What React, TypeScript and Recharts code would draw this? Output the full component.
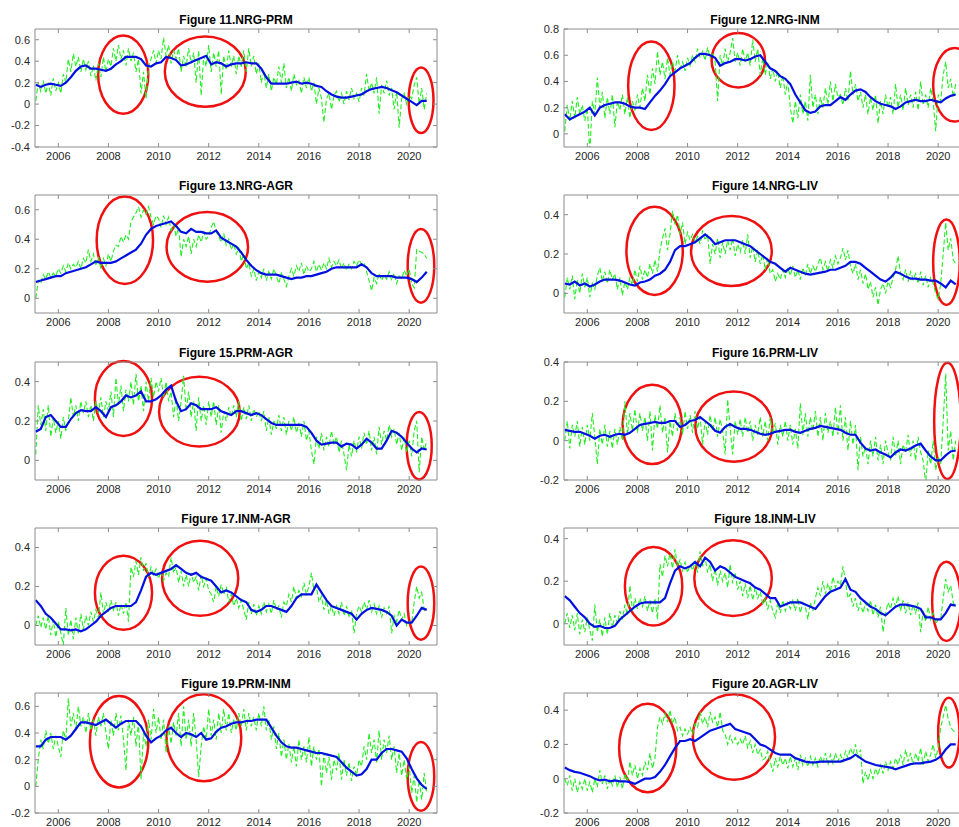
import { LineChart, Line, XAxis, YAxis, ReferenceArea } from 'recharts';

// green: raw correlation, sampled every 0.1 yr from 2005.1
// blue: smoothed correlation, sampled every 0.2 yr from 2005.1
const GREEN_START = 2005.1;
const GREEN_STEP = 0.1;
const BLUE_START = 2005.1;
const BLUE_STEP = 0.2;

const yearTicks = [2006, 2008, 2010, 2012, 2014, 2016, 2018, 2020];
const yearDomain: [number, number] = [2005.07, 2021.11];

// ---- Figure 11 NRG-PRM
const g11 = [
  0.03, 0.2, 0.12, 0.22, 0.1, 0.2, 0.08, 0.24, 0.12, 0.2,
  0.1, 0.28, 0.2, 0.42, 0.3, 0.47, 0.35, 0.44, 0.3, 0.42,
  0.32, 0.4, 0.26, 0.36, 0.22, 0.38, 0.25, 0.44, 0.3, 0.42,
  0.35, 0.52, 0.4, 0.55, 0.42, 0.5, 0.36, 0.52, 0.4, 0.48,
  0.3, 0.42, 0.1, 0.3, 0.05, 0.35, 0.42, 0.5, 0.38, 0.5,
  0.42, 0.62, 0.45, 0.55, 0.38, 0.5, 0.42, 0.52, 0.3, 0.45,
  0.35, 0.52, 0.38, 0.48, 0.2, 0.5, 0.08, 0.45, 0.35, 0.55,
  0.3, 0.48, 0.35, 0.5, 0.09, 0.45, 0.32, 0.5, 0.35, 0.45,
  0.28, 0.45, 0.35, 0.5, 0.3, 0.52, 0.35, 0.45, 0.28, 0.38,
  0.2, 0.3, 0.15, 0.28, 0.12, 0.25, 0.18, 0.35, 0.2, 0.38,
  0.15, 0.25, 0.12, 0.28, 0.18, 0.22, 0.1, 0.25, 0.15, 0.25,
  0.12, 0.2, 0.0, 0.15, 0.05, -0.17, 0.05, 0.1, -0.05, 0.08,
  0.12, 0.02, 0.1, 0.0, 0.12, 0.04, 0.15, 0.05, 0.1, 0.02,
  0.15, 0.08, 0.28, 0.12, 0.2, 0.1, 0.25, -0.09, 0.18, 0.1,
  0.22, 0.08, 0.15, -0.05, 0.12, -0.22, 0.05, 0.1, 0.0, 0.08,
  0.05, 0.18, 0.25, 0.0, 0.15, -0.05, 0.1,
];
const b11 = [
  0.18, 0.16, 0.18, 0.19, 0.18,
  0.17, 0.2, 0.25, 0.31, 0.35,
  0.36, 0.33, 0.33, 0.32, 0.31,
  0.33, 0.37, 0.4, 0.44, 0.44,
  0.44, 0.42, 0.36, 0.35, 0.38,
  0.39, 0.44, 0.43, 0.41, 0.36,
  0.37, 0.39, 0.41, 0.43, 0.45,
  0.37, 0.39, 0.38, 0.35, 0.37,
  0.38, 0.38, 0.39, 0.38, 0.38,
  0.33, 0.25, 0.19, 0.19, 0.19,
  0.19, 0.2, 0.21, 0.19, 0.2,
  0.19, 0.17, 0.16, 0.12, 0.09,
  0.07, 0.06, 0.06, 0.07, 0.08,
  0.09, 0.12, 0.14, 0.15, 0.16,
  0.15, 0.13, 0.11, 0.08, 0.05,
  0.02, -0.01, 0.03, 0.03,
];
const rings11 = [
  [2007.59, 2009.59, -0.09, 0.64],
  [2010.25, 2013.48, -0.025, 0.63],
  [2019.98, 2020.97, -0.27, 0.34],
];

// ---- Figure 12 NRG-INM
const g12 = [
  0.02, 0.22, 0.1, 0.25, 0.12, 0.28, 0.15, 0.22, 0.1, 0.2,
  -0.14, 0.25, 0.15, 0.43, 0.2, 0.32, 0.12, 0.28, 0.15, 0.3,
  0.05, 0.25, 0.18, 0.3, 0.15, 0.28, 0.12, 0.25, 0.18, 0.3,
  0.2, 0.35, 0.25, 0.45, 0.3, 0.5, 0.38, 0.63, 0.45, 0.55,
  0.42, 0.58, 0.45, 0.55, 0.48, 0.6, 0.5, 0.55, 0.48, 0.58,
  0.52, 0.6, 0.55, 0.65, 0.58, 0.63, 0.56, 0.66, 0.58, 0.62,
  0.55, 0.25, 0.6, 0.52, 0.65, 0.55, 0.62, 0.73, 0.55, 0.62,
  0.52, 0.65, 0.55, 0.62, 0.52, 0.72, 0.55, 0.65, 0.45, 0.58,
  0.45, 0.55, 0.42, 0.5, 0.4, 0.48, 0.35, 0.45, 0.3, 0.4,
  0.2, 0.08, 0.25, 0.12, 0.3, 0.15, 0.25, 0.1, 0.45, 0.2,
  0.3, 0.15, 0.28, 0.2, 0.35, 0.22, 0.4, 0.25, 0.38, 0.28,
  0.3, 0.22, 0.35, 0.25, 0.48, 0.3, 0.38, 0.25, 0.32, 0.2,
  0.3, 0.15, 0.28, 0.18, 0.3, 0.08, 0.25, 0.15, 0.3, 0.2,
  0.28, 0.15, 0.38, 0.2, 0.3, 0.18, 0.35, 0.22, 0.3, 0.2,
  0.32, 0.18, 0.4, 0.22, 0.3, 0.2, 0.35, 0.25, 0.02, 0.3,
  0.25, 0.45, 0.55, 0.35, 0.42, 0.28, 0.38,
];
const b12 = [
  0.15, 0.11, 0.13, 0.15, 0.17,
  0.2, 0.14, 0.2, 0.22, 0.23,
  0.24, 0.24, 0.23, 0.21, 0.2,
  0.2, 0.19, 0.24, 0.29, 0.33,
  0.38, 0.44, 0.47, 0.5, 0.52,
  0.54, 0.58, 0.61, 0.61, 0.6,
  0.58, 0.52, 0.54, 0.55, 0.57,
  0.57, 0.56, 0.57, 0.59, 0.6,
  0.55, 0.5, 0.48, 0.44, 0.42,
  0.38, 0.3, 0.24, 0.18, 0.16,
  0.17, 0.21, 0.22, 0.22, 0.25,
  0.28, 0.26, 0.3, 0.33, 0.34,
  0.32, 0.28, 0.25, 0.23, 0.22,
  0.21, 0.19, 0.21, 0.24, 0.25,
  0.26, 0.25, 0.25, 0.26, 0.25,
  0.24, 0.27, 0.29, 0.3,
];
const rings12 = [
  [2007.63, 2009.48, 0.03, 0.705],
  [2010.96, 2013.09, 0.354, 0.77],
  [2019.8, 2021.5, 0.094, 0.655],
];

// ---- Figure 13 NRG-AGR
const g13 = [
  0.0, 0.12, 0.1, 0.16, 0.13, 0.18, 0.14, 0.17, 0.15, 0.2,
  0.17, 0.22, 0.18, 0.24, 0.2, 0.23, 0.21, 0.25, 0.2, 0.27,
  0.24, 0.33, 0.25, 0.3, 0.22, 0.28, 0.2, 0.27, 0.22, 0.3,
  0.25, 0.32, 0.36, 0.35, 0.42, 0.38, 0.43, 0.4, 0.52, 0.55,
  0.58, 0.62, 0.55, 0.6, 0.57, 0.62, 0.55, 0.5, 0.56, 0.54,
  0.48, 0.56, 0.5, 0.55, 0.46, 0.5, 0.42, 0.48, 0.28, 0.4,
  0.35, 0.42, 0.3, 0.4, 0.35, 0.43, 0.38, 0.45, 0.4, 0.42,
  0.48, 0.52, 0.45, 0.42, 0.38, 0.44, 0.36, 0.4, 0.33, 0.37,
  0.3, 0.34, 0.25, 0.3, 0.2, 0.24, 0.15, 0.2, 0.12, 0.18,
  0.14, 0.2, 0.12, 0.18, 0.13, 0.2, 0.15, 0.1, 0.17, 0.13,
  0.08, 0.15, 0.2, 0.15, 0.22, 0.18, 0.24, 0.16, 0.22, 0.18,
  0.2, 0.25, 0.18, 0.23, 0.19, 0.24, 0.2, 0.27, 0.21, 0.25,
  0.22, 0.26, 0.2, 0.24, 0.19, 0.23, 0.2, 0.25, 0.22, 0.26,
  0.23, 0.24, 0.18, 0.12, 0.05, 0.14, 0.1, 0.17, 0.12, 0.16,
  0.13, 0.18, 0.12, 0.17, 0.1, 0.15, 0.13, 0.19, 0.15, 0.2,
  0.1, 0.07, 0.33, 0.32, 0.31, 0.3, 0.27,
];
const b13 = [
  0.11, 0.12, 0.13, 0.14, 0.15,
  0.15, 0.17, 0.18, 0.19, 0.2,
  0.21, 0.23, 0.25, 0.24, 0.24,
  0.24, 0.25, 0.27, 0.29, 0.31,
  0.33, 0.37, 0.43, 0.47, 0.49,
  0.5, 0.51, 0.52, 0.49, 0.45,
  0.44, 0.47, 0.45, 0.45, 0.44,
  0.44, 0.46, 0.41, 0.39, 0.37,
  0.35, 0.31, 0.26, 0.22, 0.19,
  0.17, 0.16, 0.16, 0.16, 0.15,
  0.14, 0.13, 0.14, 0.14, 0.15,
  0.15, 0.16, 0.17, 0.18, 0.2,
  0.21, 0.21, 0.21, 0.21, 0.21,
  0.23, 0.21, 0.17, 0.15, 0.15,
  0.15, 0.15, 0.14, 0.14, 0.14,
  0.13, 0.11, 0.14, 0.18,
];
const rings13 = [
  [2007.53, 2009.78, 0.097, 0.69],
  [2010.32, 2013.57, 0.112, 0.584],
  [2019.94, 2021.0, -0.03, 0.47],
];

// ---- Figure 14 NRG-LIV
const g14 = [
  -0.02, 0.08, 0.02, 0.09, -0.03, 0.07, 0.0, 0.1, 0.03, 0.08,
  -0.02, 0.05, 0.02, 0.09, 0.13, 0.06, 0.11, 0.05, 0.12, 0.07,
  0.1, 0.02, 0.08, -0.01, 0.06, 0.02, 0.08, 0.04, 0.12, 0.06,
  0.14, 0.07, 0.12, 0.08, 0.15, 0.1, 0.17, 0.11, 0.22, 0.28,
  0.33, 0.22, 0.3, 0.42, 0.35, 0.4, 0.3, 0.36, 0.25, 0.31,
  0.27, 0.3, 0.26, 0.29, 0.25, 0.32, 0.27, 0.3, 0.15, 0.25,
  0.2, 0.28, 0.18, 0.26, 0.2, 0.27, 0.22, 0.28, 0.19, 0.25,
  0.21, 0.27, 0.2, 0.3, 0.18, 0.24, 0.16, 0.22, 0.15, 0.2,
  0.12, 0.18, 0.1, 0.12, 0.06, 0.1, 0.07, 0.12, 0.08, 0.13,
  0.09, 0.14, 0.08, 0.12, 0.07, 0.13, 0.09, 0.15, 0.1, 0.14,
  0.11, 0.15, 0.18, 0.12, 0.16, 0.11, 0.17, 0.13, 0.19, 0.15,
  0.18, 0.23, 0.17, 0.22, 0.14, 0.1, 0.15, 0.07, 0.12, 0.05,
  0.1, 0.02, 0.06, -0.02, 0.03, -0.06, 0.02, 0.05, 0.0, 0.06,
  0.03, 0.08, 0.12, 0.19, 0.1, 0.07, 0.12, 0.06, 0.11, 0.07,
  0.1, 0.05, 0.11, 0.04, 0.09, 0.03, 0.08, 0.05, 0.0, -0.03,
  0.05, 0.2, 0.36, 0.22, 0.28, 0.17, 0.15,
];
const b14 = [
  0.05, 0.045, 0.06, 0.04, 0.05,
  0.035, 0.045, 0.06, 0.07, 0.07,
  0.07, 0.065, 0.055, 0.045, 0.04,
  0.055, 0.06, 0.07, 0.09, 0.1,
  0.12, 0.16, 0.22, 0.24, 0.24,
  0.25, 0.26, 0.28, 0.3, 0.28,
  0.25, 0.26, 0.27, 0.27, 0.27,
  0.26, 0.25, 0.24, 0.22, 0.2,
  0.18, 0.16, 0.15, 0.13, 0.11,
  0.13, 0.12, 0.11, 0.1, 0.095,
  0.1, 0.105, 0.11, 0.12, 0.12,
  0.13, 0.14, 0.16, 0.16, 0.15,
  0.13, 0.11, 0.09, 0.07, 0.06,
  0.08, 0.11, 0.1, 0.085, 0.075,
  0.075, 0.07, 0.07, 0.065, 0.065,
  0.05, 0.03, 0.065, 0.045,
];
const rings14 = [
  [2007.56, 2009.81, -0.008, 0.44],
  [2010.14, 2013.36, 0.037, 0.393],
  [2019.8, 2020.86, -0.059, 0.375],
];

// ---- Figure 15 PRM-AGR
const g15 = [
  0.03, 0.28, 0.18, 0.26, 0.15, 0.28, 0.12, 0.22, 0.14, 0.2,
  0.11, 0.22, 0.15, 0.2, 0.32, 0.22, 0.28, 0.2, 0.3, 0.24,
  0.3, 0.22, 0.28, 0.2, 0.3, 0.24, 0.32, 0.22, 0.3, 0.25,
  0.35, 0.22, 0.42, 0.28, 0.38, 0.25, 0.36, 0.3, 0.4, 0.28,
  0.44, 0.3, 0.38, 0.25, 0.4, 0.3, 0.42, 0.32, 0.4, 0.35,
  0.42, 0.32, 0.4, 0.3, 0.35, 0.22, 0.32, 0.2, 0.3, 0.43,
  0.25, 0.35, 0.22, 0.3, 0.15, 0.32, 0.2, 0.28, 0.18, 0.3,
  0.22, 0.3, 0.18, 0.28, 0.14, 0.25, 0.2, 0.27, 0.22, 0.28,
  0.22, 0.3, 0.2, 0.27, 0.21, 0.28, 0.2, 0.26, 0.22, 0.25,
  0.2, 0.25, 0.15, 0.22, 0.13, 0.2, 0.16, 0.23, 0.15, 0.22,
  0.13, 0.2, 0.15, 0.22, 0.14, 0.19, 0.12, 0.2, 0.1, 0.15,
  0.05, -0.02, 0.12, 0.06, 0.14, 0.05, 0.12, 0.07, 0.15, 0.08,
  0.12, 0.04, 0.1, 0.03, -0.05, 0.08, 0.02, 0.1, 0.04, 0.12,
  0.06, 0.14, 0.08, 0.15, 0.05, 0.12, 0.03, 0.17, 0.08, 0.15,
  0.1, 0.18, 0.12, 0.16, 0.08, 0.14, 0.05, 0.12, 0.04, 0.1,
  0.02, 0.15, 0.2, -0.06, 0.12, 0.05, 0.1,
];
const b15 = [
  0.145, 0.16, 0.22, 0.23, 0.2,
  0.17, 0.17, 0.21, 0.24, 0.255,
  0.25, 0.25, 0.27, 0.25, 0.22,
  0.27, 0.28, 0.3, 0.33, 0.32,
  0.33, 0.35, 0.3, 0.3, 0.31,
  0.33, 0.36, 0.38, 0.3, 0.25,
  0.26, 0.29, 0.28, 0.26, 0.26,
  0.26, 0.27, 0.25, 0.24, 0.23,
  0.25, 0.25, 0.24, 0.23, 0.24,
  0.23, 0.21, 0.19, 0.18, 0.18,
  0.18, 0.18, 0.18, 0.18, 0.17,
  0.14, 0.1, 0.08, 0.085, 0.09,
  0.09, 0.07, 0.085, 0.08, 0.06,
  0.08, 0.11, 0.09, 0.06, 0.06,
  0.1, 0.15, 0.14, 0.12, 0.09,
  0.06, 0.04, 0.06, 0.055,
];
const rings15 = [
  [2007.46, 2009.74, 0.124, 0.505],
  [2010.02, 2013.24, 0.07, 0.425],
  [2019.9, 2020.9, -0.097, 0.246],
];

// ---- Figure 16 PRM-LIV
const g16 = [
  0.0, 0.1, -0.04, 0.08, 0.02, 0.1, -0.03, 0.07, -0.02, 0.08,
  0.0, 0.14, 0.02, -0.12, 0.06, -0.02, 0.08, -0.03, 0.05, -0.04,
  0.06, -0.02, 0.07, 0.0, 0.2, 0.03, 0.14, 0.05, 0.16, 0.04,
  0.14, 0.05, 0.12, 0.0, 0.15, -0.05, 0.13, 0.06, 0.18, 0.04,
  0.12, -0.06, 0.1, 0.02, 0.14, 0.05, 0.12, 0.03, 0.15, 0.06,
  0.13, 0.04, 0.15, 0.06, 0.12, -0.02, 0.1, 0.03, 0.13, 0.05,
  0.12, 0.02, 0.11, 0.05, -0.07, 0.21, 0.06, -0.07, 0.1, 0.03,
  0.11, 0.02, 0.12, 0.04, 0.1, 0.0, 0.08, 0.03, 0.12, 0.02,
  0.1, 0.0, 0.12, 0.03, 0.09, -0.02, 0.08, 0.02, 0.1, 0.0,
  0.08, -0.02, 0.06, -0.04, 0.19, 0.03, 0.14, 0.02, 0.12, 0.05,
  0.15, 0.02, 0.12, 0.0, 0.14, 0.04, 0.1, 0.02, 0.17, 0.03,
  0.18, 0.0, 0.12, -0.05, 0.1, -0.02, 0.08, -0.15, 0.02, -0.08,
  -0.03, -0.12, 0.0, -0.08, 0.02, -0.1, -0.02, -0.12, 0.0, -0.06,
  -0.1, 0.02, -0.08, 0.0, -0.12, -0.02, -0.06, 0.03, -0.08, 0.0,
  -0.1, 0.02, -0.06, -0.1, -0.22, -0.05, -0.12, 0.0, -0.15, -0.08,
  -0.12, 0.1, 0.34, -0.05, 0.05, -0.1, 0.0,
];
const b16 = [
  0.055, 0.05, 0.045, 0.045, 0.035,
  0.025, 0.01, 0.025, 0.03, 0.02,
  0.03, 0.035, 0.03, 0.04, 0.06,
  0.08, 0.085, 0.09, 0.095, 0.09,
  0.09, 0.1, 0.1, 0.07, 0.08,
  0.1, 0.105, 0.12, 0.1, 0.08,
  0.05, 0.04, 0.07, 0.085, 0.07,
  0.06, 0.06, 0.055, 0.045, 0.035,
  0.03, 0.035, 0.045, 0.05, 0.055,
  0.055, 0.045, 0.04, 0.05, 0.06,
  0.065, 0.075, 0.07, 0.065, 0.06,
  0.055, 0.04, 0.03, 0.03, -0.01,
  -0.04, -0.05, -0.045, -0.06, -0.07,
  -0.085, -0.06, -0.045, -0.05, -0.04,
  -0.025, -0.015, -0.05, -0.08, -0.1,
  -0.1, -0.075, -0.055, -0.05,
];
const rings16 = [
  [2007.41, 2009.77, -0.119, 0.284],
  [2010.31, 2013.38, -0.107, 0.25],
  [2019.84, 2020.9, -0.195, 0.396],
];

// ---- Figure 17 INM-AGR
const g17 = [
  0.0, 0.05, -0.01, 0.04, -0.02, 0.05, -0.05, 0.03, -0.06, 0.02,
  -0.04, -0.1, 0.09, -0.05, 0.03, -0.07, 0.04, -0.04, 0.06, -0.02,
  0.05, 0.0, 0.07, 0.02, 0.08, 0.04, 0.17, 0.06, 0.12, 0.07,
  0.13, 0.08, 0.12, 0.05, 0.11, 0.06, 0.12, 0.02, 0.3, 0.25,
  0.33, 0.26, 0.35, 0.28, 0.32, 0.25, 0.3, 0.26, 0.29, 0.24,
  0.28, 0.23, 0.27, 0.25, 0.35, 0.27, 0.3, 0.22, 0.28, 0.2,
  0.26, 0.2, 0.27, 0.22, 0.25, 0.18, 0.26, 0.2, 0.24, 0.18,
  0.16, 0.12, 0.2, 0.15, 0.21, 0.16, 0.2, 0.12, 0.16, 0.1,
  0.14, 0.09, 0.13, 0.08, 0.03, 0.12, 0.06, 0.11, 0.05, 0.1,
  0.06, 0.12, 0.07, 0.11, 0.06, 0.13, 0.08, 0.1, 0.04, 0.12,
  0.1, 0.16, 0.12, 0.2, 0.14, 0.18, 0.15, 0.22, 0.16, 0.2,
  0.27, 0.18, 0.2, 0.12, 0.15, 0.08, 0.13, 0.06, 0.1, 0.05,
  0.1, 0.06, 0.12, 0.05, 0.1, 0.04, 0.08, -0.04, 0.06, 0.1,
  0.07, 0.12, 0.08, 0.13, 0.07, 0.11, 0.06, 0.1, 0.04, 0.09,
  0.06, 0.1, -0.04, 0.05, 0.02, 0.08, 0.03, 0.06, 0.0, 0.02,
  0.01, 0.12, 0.2, 0.14, 0.17, 0.08, 0.07,
];
const b17 = [
  0.13, 0.1, 0.06, 0.04, 0.01,
  -0.02, -0.02, -0.025, -0.02, -0.03,
  -0.02, 0.0, 0.02, 0.05, 0.07,
  0.09, 0.1, 0.1, 0.1, 0.1,
  0.12, 0.18, 0.25, 0.27, 0.26,
  0.27, 0.28, 0.29, 0.31, 0.29,
  0.27, 0.26, 0.27, 0.25, 0.24,
  0.23, 0.2, 0.17, 0.18, 0.17,
  0.15, 0.13, 0.12, 0.08, 0.07,
  0.08, 0.1, 0.1, 0.09, 0.08,
  0.07, 0.1, 0.14, 0.16, 0.16,
  0.16, 0.21, 0.17, 0.13, 0.1,
  0.09, 0.08, 0.07, 0.06, 0.03,
  0.06, 0.08, 0.09, 0.085, 0.08,
  0.07, 0.05, 0.0, 0.03, 0.015,
  0.015, 0.05, 0.09, 0.08,
];
const rings17 = [
  [2007.46, 2009.74, -0.022, 0.358],
  [2010.14, 2013.18, 0.05, 0.434],
  [2019.94, 2021.0, -0.073, 0.302],
];

// ---- Figure 18 INM-LIV
const g18 = [
  0.0, 0.05, -0.02, 0.04, -0.03, 0.05, -0.05, 0.02, -0.04, 0.03,
  -0.03, -0.08, 0.09, -0.04, 0.02, -0.06, 0.03, -0.05, 0.05, -0.02,
  0.04, 0.0, 0.06, 0.02, 0.09, 0.04, 0.18, 0.06, 0.12, 0.07,
  0.12, 0.08, 0.13, 0.06, 0.11, 0.05, 0.12, 0.02, 0.28, 0.22,
  0.32, 0.27, 0.33, 0.26, 0.35, 0.27, 0.3, 0.25, 0.29, 0.24,
  0.28, 0.25, 0.29, 0.24, 0.34, 0.27, 0.31, 0.24, 0.28, 0.2,
  0.26, 0.18, 0.25, 0.2, 0.24, 0.17, 0.28, 0.19, 0.24, 0.16,
  0.2, 0.13, 0.19, 0.12, 0.18, 0.11, 0.17, 0.12, 0.15, 0.09,
  0.12, 0.07, 0.11, 0.06, 0.03, 0.1, 0.05, 0.11, 0.06, 0.1,
  0.07, 0.11, 0.06, 0.12, 0.05, 0.1, 0.08, 0.02, 0.1, 0.06,
  0.12, 0.17, 0.13, 0.2, 0.14, 0.19, 0.15, 0.22, 0.17, 0.2,
  0.18, 0.27, 0.2, 0.12, 0.14, 0.08, 0.12, 0.06, 0.1, 0.05,
  0.1, 0.06, 0.11, 0.04, 0.09, 0.03, 0.08, -0.04, 0.05, 0.1,
  0.07, 0.12, 0.08, 0.13, 0.06, 0.11, 0.05, 0.1, 0.04, 0.09,
  0.05, 0.1, -0.04, 0.06, 0.01, 0.08, 0.02, 0.05, 0.0, 0.02,
  0.02, 0.12, 0.21, 0.15, 0.18, 0.1, 0.08,
];
const b18 = [
  0.13, 0.11, 0.08, 0.05, 0.03,
  0.0, -0.015, -0.01, -0.02, -0.02,
  -0.01, 0.02, 0.04, 0.06, 0.08,
  0.095, 0.1, 0.1, 0.1, 0.1,
  0.12, 0.19, 0.25, 0.27, 0.26,
  0.27, 0.29, 0.27, 0.31, 0.29,
  0.25, 0.27, 0.26, 0.24, 0.22,
  0.21, 0.2, 0.19, 0.17, 0.16,
  0.14, 0.12, 0.12, 0.08, 0.09,
  0.1, 0.1, 0.1, 0.09, 0.08,
  0.07, 0.1, 0.13, 0.15, 0.16,
  0.17, 0.21, 0.16, 0.15, 0.12,
  0.1, 0.08, 0.07, 0.05, 0.04,
  0.06, 0.08, 0.09, 0.09, 0.085,
  0.08, 0.07, 0.03, 0.03, 0.02,
  0.02, 0.05, 0.09, 0.085,
];
const rings18 = [
  [2007.5, 2009.79, -0.008, 0.361],
  [2010.27, 2013.36, 0.036, 0.392],
  [2019.76, 2020.9, -0.081, 0.291],
];

// ---- Figure 19 PRM-INM
const g19 = [
  0.0, 0.2, 0.35, 0.28, 0.42, 0.32, 0.4, 0.28, 0.38, 0.3,
  0.22, 0.42, 0.35, 0.66, 0.45, 0.55, 0.42, 0.6, 0.45, 0.52,
  0.4, 0.55, 0.42, 0.5, 0.38, 0.52, 0.45, 0.55, 0.4, 0.28,
  0.5, 0.38, 0.55, 0.42, 0.53, 0.35, 0.12, 0.5, 0.38, 0.52,
  0.3, 0.48, 0.05, 0.4, 0.3, 0.5, 0.35, 0.58, 0.4, 0.52,
  0.35, 0.5, 0.25, 0.45, 0.32, 0.48, 0.38, 0.55, 0.3, 0.6,
  0.35, 0.5, 0.3, 0.55, 0.35, 0.07, 0.3, 0.45, 0.35, 0.58,
  0.38, 0.5, 0.35, 0.55, 0.4, 0.58, 0.42, 0.55, 0.4, 0.5,
  0.42, 0.55, 0.45, 0.58, 0.42, 0.55, 0.45, 0.52, 0.42, 0.55,
  0.45, 0.6, 0.42, 0.5, 0.35, 0.45, 0.28, 0.4, 0.22, 0.35,
  0.2, 0.32, 0.18, 0.3, 0.15, 0.35, 0.2, 0.3, 0.18, 0.37,
  0.15, 0.3, 0.2, 0.28, 0.0, 0.25, 0.1, 0.22, 0.05, 0.2,
  0.12, 0.25, 0.05, 0.2, 0.08, 0.18, 0.04, 0.15, 0.08, 0.2,
  0.15, 0.3, 0.2, 0.4, 0.25, 0.35, 0.18, 0.42, 0.2, 0.35,
  0.25, 0.38, 0.2, 0.3, 0.1, 0.25, 0.08, 0.2, 0.05, 0.15,
  -0.05, 0.08, -0.12, 0.05, -0.1, 0.1, -0.05,
];
const b19 = [
  0.3, 0.3, 0.35, 0.37, 0.37,
  0.37, 0.35, 0.38, 0.43, 0.48,
  0.48, 0.47, 0.46, 0.48, 0.5,
  0.47, 0.44, 0.47, 0.49, 0.49,
  0.49, 0.45, 0.38, 0.33, 0.36,
  0.38, 0.42, 0.44, 0.4, 0.37,
  0.4, 0.39, 0.37, 0.4, 0.35,
  0.36, 0.41, 0.44, 0.45, 0.47,
  0.48, 0.48, 0.49, 0.49, 0.5,
  0.5, 0.5, 0.44, 0.38, 0.33,
  0.3, 0.29, 0.29, 0.28, 0.27,
  0.26, 0.25, 0.25, 0.24, 0.23,
  0.22, 0.18, 0.14, 0.11, 0.08,
  0.09, 0.13, 0.2, 0.2, 0.25,
  0.28, 0.28, 0.27, 0.26, 0.21,
  0.13, 0.06, 0.01, -0.02,
];
const rings19 = [
  [2007.26, 2009.59, -0.008, 0.677],
  [2010.32, 2013.3, 0.038, 0.69],
  [2019.94, 2021.0, -0.184, 0.332],
];

// ---- Figure 20 AGR-LIV
const g20 = [
  0.0, -0.04, 0.02, -0.07, 0.0, -0.08, -0.02, -0.06, 0.0, -0.07,
  -0.02, -0.08, 0.0, -0.05, 0.05, -0.03, 0.02, -0.06, 0.0, -0.04,
  0.02, -0.05, 0.01, -0.06, 0.03, -0.02, 0.1, 0.02, 0.08, 0.0,
  0.06, 0.02, 0.1, 0.05, 0.15, 0.06, 0.12, 0.3, 0.36, 0.32,
  0.38, 0.33, 0.4, 0.32, 0.36, 0.28, 0.3, 0.25, 0.29, 0.26,
  0.3, 0.26, 0.32, 0.3, 0.39, 0.32, 0.36, 0.3, 0.39, 0.33,
  0.36, 0.3, 0.39, 0.28, 0.26, 0.2, 0.25, 0.21, 0.24, 0.2,
  0.23, 0.2, 0.25, 0.18, 0.22, 0.15, 0.2, 0.14, 0.17, 0.11,
  0.12, 0.16, 0.1, 0.04, 0.12, 0.07, 0.13, 0.08, 0.12, 0.06,
  0.13, 0.07, 0.12, 0.05, 0.14, 0.08, 0.12, 0.07, 0.13, 0.08,
  0.12, 0.07, 0.13, 0.09, 0.15, 0.08, 0.14, 0.09, 0.15, 0.1,
  0.14, 0.1, 0.16, 0.12, 0.18, 0.14, 0.2, 0.12, 0.17, -0.03,
  0.04, -0.01, 0.05, 0.0, 0.06, 0.02, 0.08, 0.03, 0.1, 0.05,
  0.1, 0.06, 0.12, 0.08, 0.14, 0.08, 0.17, 0.1, 0.15, 0.08,
  0.15, 0.1, 0.18, 0.08, 0.16, 0.1, 0.14, 0.2, 0.12, 0.18,
  0.3, 0.36, 0.43, 0.35, 0.3, 0.28, 0.27,
];
const b20 = [
  0.065, 0.05, 0.04, 0.035, 0.025,
  0.015, 0.0, -0.01, -0.005, -0.015,
  -0.01, -0.015, -0.015, -0.02, -0.03,
  -0.015, 0.0, 0.0, 0.01, 0.04,
  0.08, 0.13, 0.18, 0.22, 0.22,
  0.23, 0.22, 0.24, 0.26, 0.28,
  0.29, 0.3, 0.31, 0.32, 0.29,
  0.28, 0.27, 0.26, 0.23, 0.2,
  0.19, 0.17, 0.15, 0.14, 0.14,
  0.14, 0.12, 0.11, 0.1, 0.095,
  0.095, 0.1, 0.1, 0.1, 0.1,
  0.1, 0.11, 0.12, 0.14, 0.12,
  0.1, 0.09, 0.08, 0.075, 0.07,
  0.065, 0.055, 0.065, 0.075, 0.085,
  0.09, 0.09, 0.095, 0.1, 0.11,
  0.13, 0.17, 0.2, 0.2,
];
const rings20 = [
  [2007.27, 2009.55, -0.079, 0.437],
  [2010.21, 2013.49, -0.006, 0.493],
  [2020.0, 2020.85, 0.065, 0.473],
];

const toPoints = (vals: number[], start: number, step: number) =>
  vals.map((v, i) => ({ x: +(start + i * step).toFixed(2), y: v }));

const LEFT_COL = 0;
const RIGHT_COL = 529;
const ROW_TOP = [29, 195, 362, 528, 693];
const ROW_H = [118, 118, 118, 117, 120];
// headroom above the plot so the top tick label is not cut
const PAD_TOP = 8;

const panels = [
  { title: 'Figure 11.NRG-PRM', col: LEFT_COL, row: 0, g: g11, b: b11, rings: rings11, domain: [-0.4, 0.7], ticks: [-0.4, -0.2, 0, 0.2, 0.4, 0.6] },
  { title: 'Figure 12.NRG-INM', col: RIGHT_COL, row: 0, g: g12, b: b12, rings: rings12, domain: [-0.1, 0.8], ticks: [0, 0.2, 0.4, 0.6, 0.8] },
  { title: 'Figure 13.NRG-AGR', col: LEFT_COL, row: 1, g: g13, b: b13, rings: rings13, domain: [-0.1, 0.7], ticks: [0, 0.2, 0.4, 0.6] },
  { title: 'Figure 14.NRG-LIV', col: RIGHT_COL, row: 1, g: g14, b: b14, rings: rings14, domain: [-0.1, 0.5], ticks: [0, 0.2, 0.4] },
  { title: 'Figure 15.PRM-AGR', col: LEFT_COL, row: 2, g: g15, b: b15, rings: rings15, domain: [-0.1, 0.5], ticks: [0, 0.2, 0.4] },
  { title: 'Figure 16.PRM-LIV', col: RIGHT_COL, row: 2, g: g16, b: b16, rings: rings16, domain: [-0.2, 0.4], ticks: [-0.2, 0, 0.2, 0.4] },
  { title: 'Figure 17.INM-AGR', col: LEFT_COL, row: 3, g: g17, b: b17, rings: rings17, domain: [-0.1, 0.5], ticks: [0, 0.2, 0.4] },
  { title: 'Figure 18.INM-LIV', col: RIGHT_COL, row: 3, g: g18, b: b18, rings: rings18, domain: [-0.1, 0.45], ticks: [0, 0.2, 0.4] },
  { title: 'Figure 19.PRM-INM', col: LEFT_COL, row: 4, g: g19, b: b19, rings: rings19, domain: [-0.2, 0.7], ticks: [-0.2, 0, 0.2, 0.4, 0.6] },
  { title: 'Figure 20.AGR-LIV', col: RIGHT_COL, row: 4, g: g20, b: b20, rings: rings20, domain: [-0.2, 0.5], ticks: [-0.2, 0, 0.2, 0.4] },
];

const AXIS_GRAY = '#8c8c8c';
const TICK_FONT = { fontSize: 11, fill: '#262626' };
const fmtY = (v: number) => String(Math.round(v * 100) / 100);
const blank = () => '';

const ringShape = (props: any) => {
  const { x, y, width, height } = props;
  return (
    <ellipse
      cx={x + width / 2}
      cy={y + height / 2}
      rx={Math.abs(width / 2)}
      ry={Math.abs(height / 2)}
      fill="none"
      stroke="#f01010"
      strokeWidth={2.5}
    />
  );
};

function Panel({ p }: { p: (typeof panels)[number] }) {
  const top = ROW_TOP[p.row];
  const h = ROW_H[p.row];
  const green = toPoints(p.g, GREEN_START, GREEN_STEP);
  const blue = toPoints(p.b, BLUE_START, BLUE_STEP);
  return (
    <>
      <div
        style={{
          position: 'absolute',
          left: p.col + 35,
          top: top - 16,
          width: 402,
          textAlign: 'center',
          fontWeight: 'bold',
          fontSize: 12,
          lineHeight: '14px',
          color: '#000',
        }}
      >
        {p.title}
      </div>
      <div style={{ position: 'absolute', left: p.col, top: top - 1 - PAD_TOP }}>
        <LineChart width={438} height={h + 21 + PAD_TOP} margin={{ top: PAD_TOP, right: 0, bottom: 0, left: 0 }}>
          <XAxis
            dataKey="x"
            type="number"
            domain={yearDomain}
            ticks={yearTicks}
            interval={0}
            allowDataOverflow
            height={20}
            tickSize={-4}
            tickMargin={9}
            stroke={AXIS_GRAY}
            tick={TICK_FONT}
          />
          <XAxis
            xAxisId="top"
            orientation="top"
            dataKey="x"
            type="number"
            domain={yearDomain}
            ticks={yearTicks}
            interval={0}
            allowDataOverflow
            height={1}
            tickSize={-4}
            tickFormatter={blank}
            stroke={AXIS_GRAY}
          />
          <YAxis
            type="number"
            domain={p.domain}
            ticks={p.ticks}
            interval={0}
            allowDataOverflow
            width={35}
            tickSize={-4}
            tickMargin={9}
            tickFormatter={fmtY}
            stroke={AXIS_GRAY}
            tick={TICK_FONT}
          />
          <YAxis
            yAxisId="right"
            orientation="right"
            type="number"
            domain={p.domain}
            ticks={p.ticks}
            interval={0}
            allowDataOverflow
            width={1}
            tickSize={-4}
            tickFormatter={blank}
            stroke={AXIS_GRAY}
          />
          <Line
            data={green}
            dataKey="y"
            type="linear"
            stroke="#22ee22"
            strokeWidth={1.1}
            strokeDasharray="5 2.5"
            dot={false}
            isAnimationActive={false}
          />
          <Line
            data={blue}
            dataKey="y"
            type="linear"
            stroke="#0010e0"
            strokeWidth={2.2}
            dot={false}
            isAnimationActive={false}
          />
          {p.rings.map((r, i) => (
            <ReferenceArea
              key={i}
              x1={r[0]}
              x2={r[1]}
              y1={r[2]}
              y2={r[3]}
              ifOverflow="visible"
              shape={ringShape}
            />
          ))}
        </LineChart>
      </div>
    </>
  );
}

export default function App() {
  return (
    <div
      style={{
        position: 'absolute',
        left: 0,
        top: 0,
        width: 959,
        height: 827,
        overflow: 'hidden',
        background: '#fff',
        fontFamily: '"Liberation Sans", Arial, Helvetica, sans-serif',
      }}
    >
      {panels.map((p) => (
        <Panel key={p.title} p={p} />
      ))}
    </div>
  );
}
